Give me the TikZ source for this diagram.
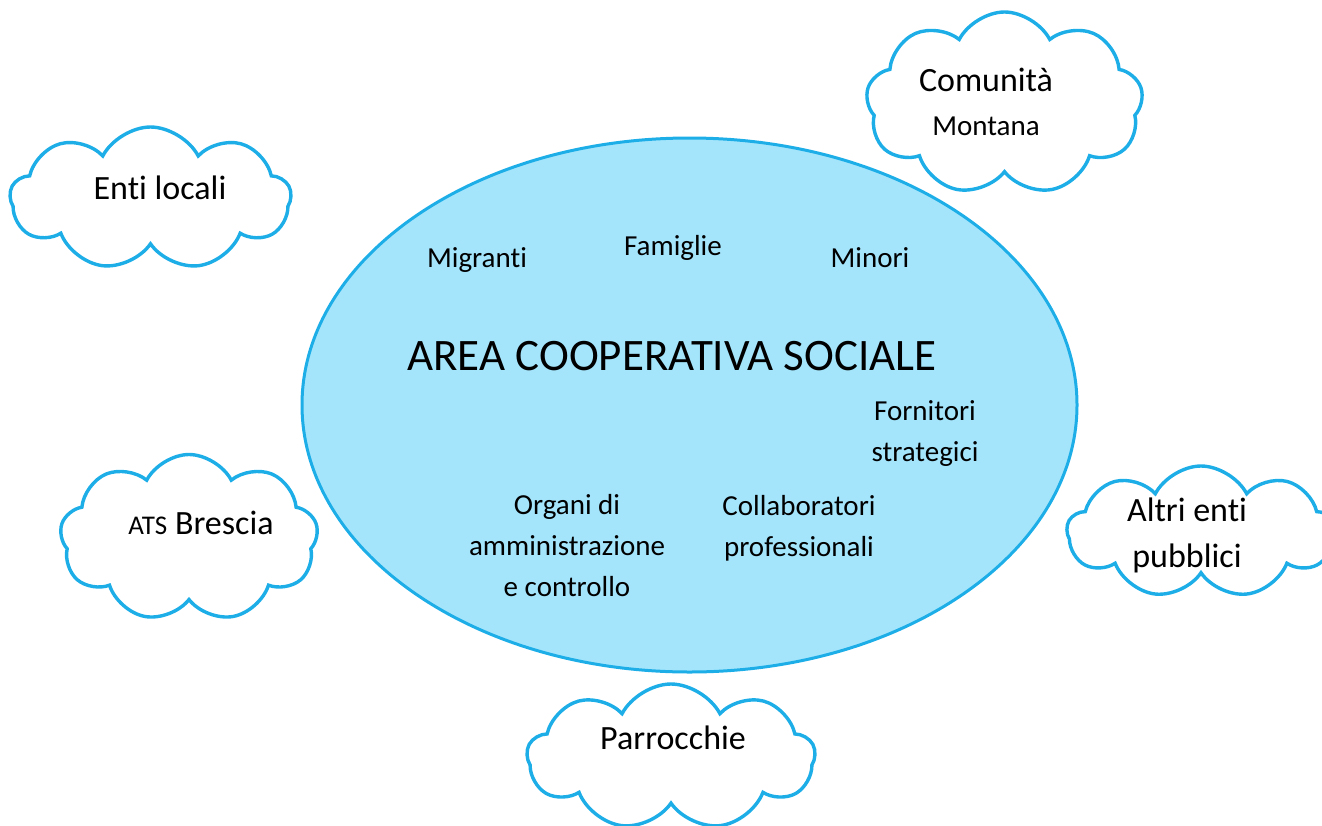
\documentclass[tikz,border=0pt]{standalone}
\usepackage{fontspec}
\setmainfont{Carlito}[Ligatures=NoCommon]
\usepackage{xcolor}
\usetikzlibrary{shapes.geometric,shapes.symbols}
\definecolor{sky}{HTML}{A4E5FC}
\definecolor{rim}{HTML}{1DAEE8}

\begin{document}
\begin{tikzpicture}[
  x=1pt,y=-1pt,
  area/.style={ellipse,draw=rim,line width=3pt,fill=sky,minimum width=775pt,minimum height=534pt,inner sep=0pt},
  puff/.style={cloud,cloud puffs=9,cloud puff arc=125,aspect=1.8,draw=rim,line width=3.4pt,fill=white,inner sep=0pt},
  small/.style={align=center,font=\fontsize{29}{41}\selectfont},
  mid/.style={align=center,font=\fontsize{34}{46}\selectfont},
  title/.style={font=\fontsize{45}{54}\selectfont}
]
\useasboundingbox (0,0) rectangle (1322,825);
\clip (0,0) rectangle (1322,825);
% central area
\node[area] (coop) at (689.5,405) {};
\node[title] (t) at (672,356) {AREA COOPERATIVA SOCIALE};
\node[small] (mig) at (477,260) {Migranti};
\node[small] (fam) at (673,248) {Famiglie};
\node[small] (min) at (870,258) {Minori};
\node[small] (forn) at (925,434) {Fornitori\\strategici};
\node[small] (org) at (567,546) {Organi di\\amministrazione\\e controllo};
\node[small] (coll) at (799,528) {Collaboratori\\professionali};
% clouds around
\node[puff,minimum width=277pt,minimum height=183pt,aspect=1.5] (cm) at (1004.5,103.5) {};
\node[mid] (cm1) at (986,80) {Comunità};
\node[small] (cm2) at (986,126) {Montana};
\node[puff,minimum width=281pt,minimum height=143pt,aspect=2] (el) at (150.5,198.5) {};
\node[mid] (elt) at (160,188) {Enti locali};
\node[puff,minimum width=258pt,minimum height=167pt,aspect=1.55] (ats) at (189,538) {};
\node[mid] (atst) at (201,523) {{\fontsize{27}{30}\selectfont ATS} Brescia};
\node[puff,minimum width=268pt,minimum height=132pt,aspect=2] (aep) at (1201,532) {};
\node[mid] (aept) at (1187,535) {Altri enti\\pubblici};
\node[puff,minimum width=288pt,minimum height=146pt,aspect=2] (par) at (671,757) {};
\node[mid] (part) at (673,738) {Parrocchie};
\end{tikzpicture}
\end{document}
